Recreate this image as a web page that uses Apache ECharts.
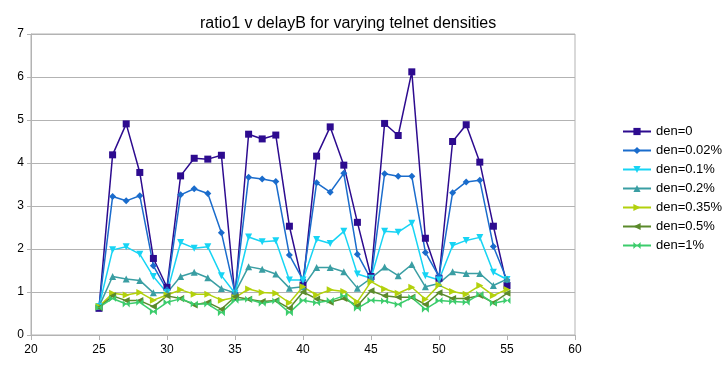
<!DOCTYPE html>
<html>
<head>
<meta charset="UTF-8">
<title>ratio1 v delayB</title>
<style>
    html,body{padding:0; margin:0; background:#fff;}
    #main{width:724px; height:371px;}
</style>
<script src="https://cdn.jsdelivr.net/npm/echarts@6/dist/echarts.min.js"></script>
</head>
<body>
<div id="main"></div>
<script type="text/javascript">
    // delayB values (x)
    var delayB = [25,26,27,28,29,30,31,32,33,34,35,36,37,38,39,40,41,42,43,44,45,46,47,48,49,50,51,52,53,54,55];

    var den0   = [0.62,4.19,4.91,3.78,1.78,1.11,3.70,4.11,4.09,4.18,0.89,4.67,4.56,4.65,2.53,1.16,4.16,4.84,3.95,2.62,1.36,4.92,4.64,6.12,2.25,1.32,4.50,4.89,4.02,2.53,1.15];
    var den002 = [0.66,3.22,3.12,3.24,1.61,1.05,3.26,3.40,3.29,2.38,0.98,3.67,3.63,3.57,1.86,1.28,3.54,3.32,3.76,1.88,1.30,3.75,3.69,3.69,1.92,1.36,3.31,3.56,3.60,2.06,1.28];
    var den01  = [0.66,1.98,2.05,1.88,1.36,0.98,2.15,2.02,2.05,1.38,0.97,2.28,2.17,2.19,1.28,1.28,2.22,2.13,2.41,1.42,1.32,2.41,2.39,2.60,1.38,1.28,2.08,2.20,2.27,1.46,1.29];
    var den02  = [0.66,1.36,1.30,1.27,0.98,0.98,1.36,1.46,1.33,1.08,0.98,1.59,1.53,1.42,1.09,1.12,1.57,1.57,1.47,1.09,1.32,1.58,1.38,1.64,1.12,1.20,1.47,1.43,1.43,1.15,1.30];
    var den035 = [0.66,0.97,0.93,0.99,0.81,0.93,1.05,0.95,0.95,0.81,0.87,1.07,0.99,0.97,0.75,1.12,0.93,1.05,1.01,0.77,1.24,1.07,0.97,1.11,0.83,1.16,1.01,0.95,1.15,0.92,1.06];
    var den05  = [0.64,0.91,0.80,0.80,0.66,0.91,0.85,0.70,0.76,0.60,0.89,0.83,0.78,0.80,0.62,1.00,0.84,0.76,0.85,0.68,1.03,0.91,0.88,0.88,0.71,0.98,0.85,0.85,0.92,0.75,0.97];
    var den1   = [0.64,0.85,0.72,0.76,0.54,0.76,0.84,0.72,0.72,0.52,0.81,0.83,0.74,0.79,0.52,0.81,0.75,0.80,0.91,0.62,0.81,0.79,0.71,0.87,0.60,0.80,0.78,0.76,0.95,0.74,0.80];

    var names  = ['den=0','den=0.02%','den=0.1%','den=0.2%','den=0.35%','den=0.5%','den=1%'];
    var values = [den0, den002, den01, den02, den035, den05, den1];
    var colors = ['#2d0b8f','#1a6ccc','#17d4f4','#3a9ea3','#b3d10c','#5b8a2b','#3ccc6c'];
    var symbols = [
        'rect',
        'diamond',
        'path://M0,0 L10,0 L5,10 Z',
        'triangle',
        'path://M0,0 L10,5 L0,10 Z',
        'path://M10,0 L0,5 L10,10 Z',
        'path://M0,0 L5,5 L0,10 Z M10,0 L5,5 L10,10 Z'
    ];

    function pairs(ys){
        var out = [];
        for (var i = 0; i < delayB.length; i++) out.push([delayB[i], ys[i]]);
        return out;
    }

    var series = [];
    for (var k = 0; k < names.length; k++) {
        series.push({
            name: names[k],
            type: 'line',
            data: pairs(values[k]),
            symbol: symbols[k],
            symbolSize: 7,
            showAllSymbol: true,
            lineStyle: {width: 1.5, color: colors[k]},
            itemStyle: {color: colors[k]},
            animation: false
        });
    }

    var myChart = echarts.init(document.getElementById('main'));
    var option = {
        backgroundColor: '#fff',
        color: colors,
        textStyle: {fontFamily: 'Liberation Sans'},
        title: {
            text: 'ratio1 v delayB for varying telnet densities',
            left: 195,
            top: 11,
            textStyle: {fontSize: 16, fontWeight: 'normal', color: '#000', fontFamily: 'Liberation Sans'}
        },
        legend: {
            orient: 'vertical',
            left: 617,
            top: 120,
            itemWidth: 28,
            itemHeight: 9,
            itemGap: 6,
            textStyle: {fontSize: 13, color: '#000', fontFamily: 'Liberation Sans'},
            data: names
        },
        grid: {
            left: 31, right: 149, top: 34, bottom: 36,
            show: true, borderColor: '#b3b3b3', borderWidth: 1
        },
        xAxis: {
            type: 'value',
            min: 20, max: 60, interval: 5,
            axisLine: {show: true, lineStyle: {color: '#b3b3b3'}},
            axisTick: {show: true, length: 5, lineStyle: {color: '#b3b3b3'}},
            axisLabel: {fontSize: 12, color: '#000', margin: 9},
            splitLine: {show: false}
        },
        yAxis: {
            type: 'value',
            min: 0, max: 7, interval: 1,
            axisLine: {show: true, lineStyle: {color: '#b3b3b3'}},
            axisTick: {show: true, length: 4, lineStyle: {color: '#b3b3b3'}},
            axisLabel: {fontSize: 12, color: '#000', margin: 7},
            splitLine: {show: true, lineStyle: {color: '#b3b3b3'}}
        },
        series: series
    };
    myChart.setOption(option);
</script>
</body>
</html>
